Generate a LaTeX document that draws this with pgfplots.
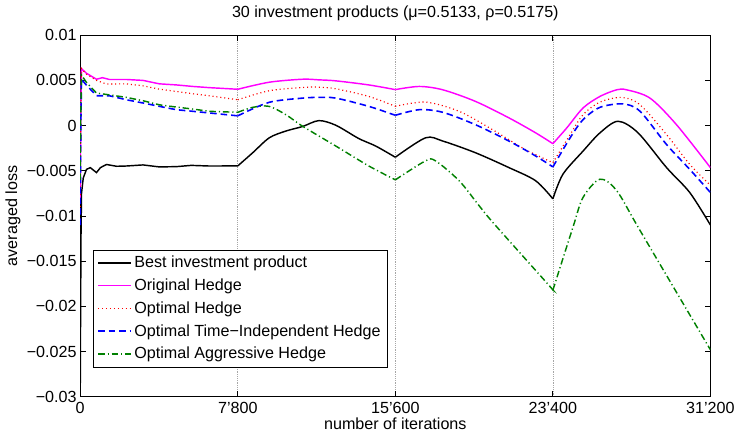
\documentclass[border=0pt]{standalone}
\usepackage{fontspec}
\setmainfont{Liberation Sans}
\usepackage{pgfplots}
\pgfplotsset{compat=1.18}
\definecolor{mgreen}{rgb}{0,0.5,0}
\definecolor{mmag}{rgb}{1,0,1}
\definecolor{mred}{rgb}{1,0,0}
\definecolor{mblue}{rgb}{0,0,1}
\tikzset{
  sBlack/.style={black, line width=1.1pt, solid},
  sMag/.style={mmag, line width=1.1pt, solid},
  sRed/.style={mred, line width=0.9pt, dash pattern=on 0.8pt off 2.2pt},
  sBlue/.style={mblue, line width=1.2pt, dash pattern=on 5pt off 3pt},
  sGreen/.style={mgreen, line width=1.1pt, dash pattern=on 5pt off 2.2pt on 0.9pt off 2.2pt},
}
\begin{document}
\fontsize{12.3}{14.8}\selectfont
\begin{tikzpicture}
\begin{axis}[
  width=481pt, height=276pt, scale only axis,
  xmin=0, xmax=31200, ymin=-0.03, ymax=0.01,
  xtick={0,7800,15600,23400,31200},
  xticklabels={0,7'800,15'600,23'400,31'200},
  ytick={-0.03,-0.025,-0.02,-0.015,-0.01,-0.005,0,0.005,0.01},
  yticklabels={−0.03,−0.025,−0.02,−0.015,−0.01,−0.005,0,0.005,0.01},
  scaled y ticks=false, scaled x ticks=false,
  tick align=inside, xtick pos=both, ytick pos=both,
  major tick length=4.5pt,
  yticklabel style={xshift=1.5pt},
  xmajorgrids, grid style={densely dotted, gray!70, line width=0.5pt},
  axis line style={line width=0.8pt},
  every tick/.style={black, line width=0.6pt},
  title={30 investment products (μ=0.5133, ρ=0.5175)},
  title style={yshift=1pt},
  xlabel={number of iterations},
  ylabel={averaged loss},
  xlabel style={yshift=5pt},
  ylabel style={yshift=-3.5pt},
  legend style={at={(0.021,0.082)}, anchor=south west, draw=black, line width=0.6pt, outer sep=0pt, row sep=2.6pt, inner xsep=3pt, inner ysep=2.5pt, font=\fontsize{12.3}{14.8}\selectfont},
  legend cell align=left,
  legend image code/.code={\draw[#1] (0pt,0.2pt) -- (25pt,0.2pt);},
]
% Best investment product
\addplot[sBlack] coordinates {(0,-0.03) (20,-0.02) (40,-0.012) (64,-0.0075) (150,-0.0058) (311,-0.00484) (500,-0.00465) (805,-0.0052) (1000,-0.00465) (1298,-0.0043) (1800,-0.0045) (2286,-0.00447) (3110,-0.00435) (3915,-0.00457) (4755,-0.00454) (5500,-0.0044) (6383,-0.00447) (7800,-0.00446)};
\addlegendentry{Best investment product}
\addplot[sBlack, smooth, tension=0.5, forget plot] coordinates {(7800,-0.00446) (8541,-0.003) (9360,-0.00135) (10185,-0.0006) (11009,-0.0001) (11814,0.00055) (12653,0.00004) (13789,-0.00143) (14628,-0.00226) (15600,-0.0035)};
\addplot[sBlack, smooth, tension=0.5, forget plot] coordinates {(15600,-0.0035) (17096,-0.00135) (17949,-0.00171) (19565,-0.003) (21228,-0.00465) (22546,-0.0061) (23400,-0.0081)};
\addplot[sBlack, smooth, tension=0.5, forget plot] coordinates {(23400,-0.0081) (23897,-0.00538) (24893,-0.00282) (25732,-0.0008) (26626,0.00048) (27616,-0.0008) (29030,-0.00465) (30175,-0.0074) (31200,-0.011)};
% Original Hedge
\addplot[sMag] coordinates {(0,-0.008) (30,0.002) (64,0.0063) (300,0.0058) (805,0.00513) (1100,0.0053) (1447,0.0051) (2286,0.0051) (3110,0.0050) (3915,0.00462) (4755,0.0045) (5579,0.00433) (6383,0.0042) (7800,0.00402)};
\addlegendentry{Original Hedge}
\addplot[sMag, smooth, forget plot] coordinates {(7800,0.00402) (9360,0.0048) (11009,0.00513) (11814,0.00506) (12653,0.00495) (14282,0.0045) (15600,0.00398)};
\addplot[sMag, smooth, forget plot] coordinates {(15600,0.00398) (16785,0.00433) (17949,0.00396) (19565,0.00268) (21228,0.00085) (22546,-0.0008) (23400,-0.002)};
\addplot[sMag, smooth, forget plot] coordinates {(23400,-0.002) (24090,-0.00025) (24893,0.00195) (25732,0.00323) (26560,0.00396) (27050,0.00396) (28208,0.00304) (29520,0.0001) (31200,-0.00465)};
% Optimal Hedge
\addplot[sRed] coordinates {(0,-0.009) (30,0.001) (64,0.0063) (300,0.0057) (805,0.0050) (1298,0.0046) (2286,0.00462) (3110,0.0044) (3915,0.00403) (4755,0.00378) (5579,0.00352) (6383,0.0033) (7800,0.00286)};
\addlegendentry{Optimal Hedge}
\addplot[sRed, smooth, forget plot] coordinates {(7800,0.00286) (9345,0.00385) (11009,0.00422) (11814,0.00425) (12653,0.00407) (14282,0.00323) (15600,0.00213)};
\addplot[sRed, smooth, forget plot] coordinates {(15600,0.00213) (17096,0.0026) (18760,0.00158) (20404,-0.00044) (22033,-0.00264) (23400,-0.0041)};
\addplot[sRed, smooth, forget plot] coordinates {(23400,-0.0041) (24254,-0.001) (24893,0.0012) (25732,0.0026) (26810,0.00312) (27715,0.0023) (29030,-0.001) (30175,-0.00429) (31200,-0.0066)};
% Optimal Time-Independent Hedge
\addplot[sBlue] coordinates {(0,-0.011) (30,0.0) (64,0.0051) (300,0.0045) (805,0.0033) (1447,0.0033) (2286,0.00286) (3110,0.0025) (3915,0.00213) (4755,0.00176) (5579,0.00158) (6383,0.0014) (7800,0.00108)};
\addlegendentry{Optimal Time−Independent Hedge}
\addplot[sBlue, smooth, forget plot] coordinates {(7800,0.00108) (9345,0.00257) (11009,0.00304) (11814,0.00312) (12653,0.00304) (14282,0.00213) (15600,0.00114)};
\addplot[sBlue, smooth, forget plot] coordinates {(15600,0.00114) (16785,0.00176) (17949,0.00147) (19565,0.0001) (21228,-0.00171) (22546,-0.00336) (23400,-0.00457)};
\addplot[sBlue, smooth, forget plot] coordinates {(23400,-0.00457) (24254,-0.00135) (24893,0.00066) (25732,0.00202) (26870,0.0024) (27715,0.00158) (29030,-0.0021) (30175,-0.00484) (31200,-0.0074)};
% Optimal Aggressive Hedge
\addplot[sGreen] coordinates {(0,-0.006) (30,0.002) (64,0.0056) (300,0.0048) (805,0.0036) (1447,0.0034) (2286,0.00312) (3110,0.00275) (3915,0.0023) (4755,0.00205) (5579,0.00183) (6383,0.00158) (7800,0.00147)};
\addlegendentry{Optimal Aggressive Hedge}
\addplot[sGreen, smooth, forget plot] coordinates {(7800,0.00147) (8541,0.00202) (9345,0.00213) (10185,0.0012) (11009,-0.00007) (12653,-0.00226) (14282,-0.00446) (15600,-0.006)};
\addplot[sGreen, smooth, forget plot] coordinates {(15600,-0.006) (17096,-0.0039) (17590,-0.0039) (18760,-0.0061) (19747,-0.00886) (20503,-0.0109) (23139,-0.0175) (23400,-0.0182)};
\addplot[sGreen, smooth, forget plot] coordinates {(23400,-0.0182) (24400,-0.0112) (24893,-0.00795) (25732,-0.00593) (26560,-0.0072) (27715,-0.0116) (31200,-0.0248)};
\end{axis}
\end{tikzpicture}
\end{document}
